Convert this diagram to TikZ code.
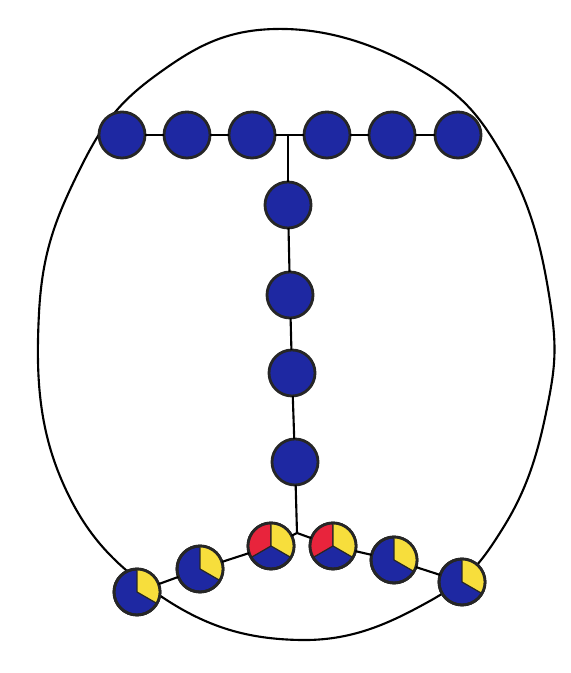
\documentclass[tikz,border=0pt]{standalone}
\definecolor{beadblue}{RGB}{30,40,162}
\definecolor{beadyellow}{RGB}{247,222,60}
\definecolor{beadred}{RGB}{232,36,60}
% a coloured sector of one bead
\newcommand{\piece}[4]{\filldraw[fill=#1,draw=black!85,line width=0.35pt] (#2.center) -- (#2.#3) arc[start angle=#3,end angle=#4,radius=0.23cm] -- cycle;}
\begin{document}
\begin{tikzpicture}[x=0.01cm,y=0.01cm,
	bead/.style={circle,draw=black!85,line width=0.8pt,fill=beadblue,minimum size=0.46cm,inner sep=0pt,outer sep=0pt},
	link/.style={line width=0.6pt}]
	\useasboundingbox (0,0) rectangle (571,673);
	% outer shell
	\draw[link] plot[smooth cycle,tension=0.7] coordinates {(275,644) (155,597) (78,500) (39,360) (62,192) (162,76) (300,33) (428,71) (503,145) (546,260) (550,372) (507,510) (420,603)};
	% top bar
	\node[bead] (t1) at (122,538) {};
	\node[bead] (t2) at (187,538) {};
	\node[bead] (t3) at (252,538) {};
	\node[bead] (t4) at (327,538) {};
	\node[bead] (t5) at (392,538) {};
	\node[bead] (t6) at (458,538) {};
	\coordinate (T) at (288,538);
	% stem
	\node[bead] (v1) at (288,468) {};
	\node[bead] (v2) at (290,378) {};
	\node[bead] (v3) at (292,300) {};
	\node[bead] (v4) at (295,211) {};
	\coordinate (J) at (297,140);
	% bottom arms
	\node[bead] (b1) at (137,81) {};
	\node[bead] (b2) at (200,104) {};
	\node[bead] (b3) at (271,127) {};
	\node[bead] (b4) at (333,127) {};
	\node[bead] (b5) at (394,113) {};
	\node[bead] (b6) at (462,91) {};
	\piece{beadyellow}{b1}{90}{-30}
	\piece{beadyellow}{b2}{90}{-30}
	\piece{beadred}{b3}{90}{210}
	\piece{beadyellow}{b3}{90}{-30}
	\piece{beadred}{b4}{90}{210}
	\piece{beadyellow}{b4}{90}{-30}
	\piece{beadyellow}{b5}{90}{-30}
	\piece{beadyellow}{b6}{90}{-30}
	\draw[line width=0.8pt,draw=black!85] (b1.center) circle[radius=0.23cm];
	\draw[line width=0.8pt,draw=black!85] (b2.center) circle[radius=0.23cm];
	\draw[line width=0.8pt,draw=black!85] (b3.center) circle[radius=0.23cm];
	\draw[line width=0.8pt,draw=black!85] (b4.center) circle[radius=0.23cm];
	\draw[line width=0.8pt,draw=black!85] (b5.center) circle[radius=0.23cm];
	\draw[line width=0.8pt,draw=black!85] (b6.center) circle[radius=0.23cm];
	% links
	\draw[link] (t1) -- (t2);
	\draw[link] (t2) -- (t3);
	\draw[link] (t3) -- (T) -- (t4);
	\draw[link] (t4) -- (t5);
	\draw[link] (t5) -- (t6);
	\draw[link] (T) -- (v1);
	\draw[link] (v1) -- (v2);
	\draw[link] (v2) -- (v3);
	\draw[link] (v3) -- (v4);
	\draw[link] (v4) -- (J);
	\draw[link] (b1) -- (b2);
	\draw[link] (b2) -- (b3);
	\draw[link] (b3) -- (J) -- (b4);
	\draw[link] (b4) -- (b5);
	\draw[link] (b5) -- (b6);
\end{tikzpicture}
\end{document}
